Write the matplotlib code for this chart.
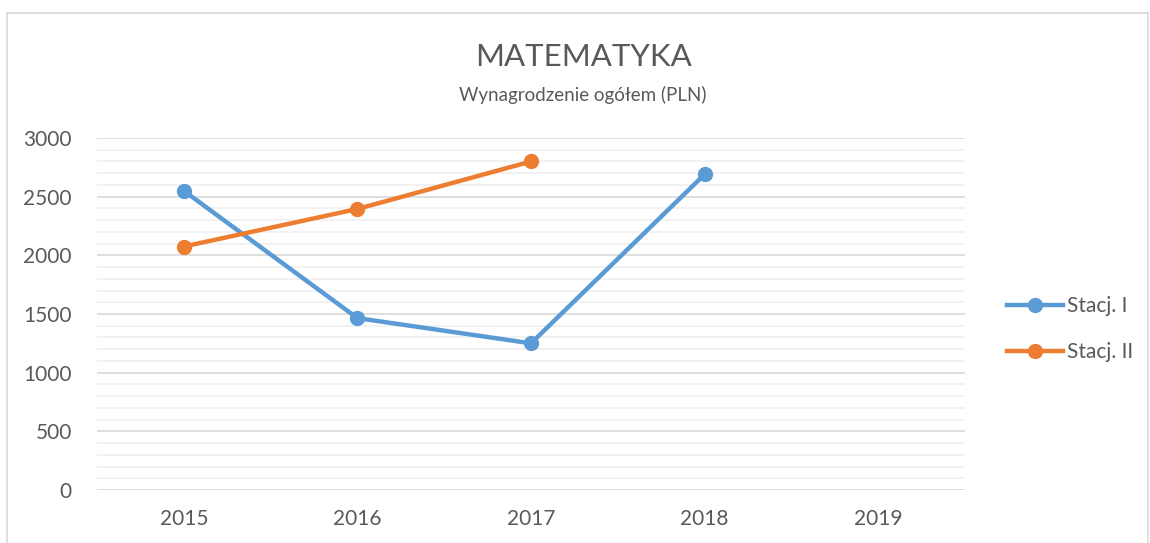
import numpy as np
import matplotlib
matplotlib.use("Agg")
import matplotlib.pyplot as plt
from matplotlib.lines import Line2D

plt.rcParams['font.family'] = ['Lato', 'DejaVu Sans']

years = ['2015', '2016', '2017', '2018', '2019']
stacj_1 = [2550, 1465, 1250, 2690, np.nan]
stacj_2 = [2075, 2395, 2800, np.nan, np.nan]
series_names = ['Stacj. I', 'Stacj. II']
title = 'MATEMATYKA'
subtitle = 'Wynagrodzenie ogółem (PLN)'

blue = '#5B9BD5'
orange = '#ED7D31'
txt = '#595959'

fig = plt.figure(figsize=(11.5, 5.43), dpi=100)
# chart border
fig.add_artist(Line2D([7/1150, 7/1150], [0, 1-13/543], color='#d9d9d9', lw=1.2))
fig.add_artist(Line2D([7/1150, 1148/1150], [1-13/543, 1-13/543], color='#d9d9d9', lw=1.2))
fig.add_artist(Line2D([1148/1150, 1148/1150], [0, 1-13/543], color='#d9d9d9', lw=1.2))

ax = fig.add_axes([97/1150, 1-490/543, (965-97)/1150, (490-138)/543])
x = np.arange(len(years))
ax.plot(x, stacj_1, color=blue, lw=3.2, marker='o', ms=10, label=series_names[0], zorder=3)
ax.plot(x, stacj_2, color=orange, lw=3.2, marker='o', ms=10, label=series_names[1], zorder=3)

ax.set_xlim(-0.5, len(years)-0.5)
ax.set_ylim(0, 3000)
ax.set_xticks(x)
ax.set_xticklabels(years)
ax.set_yticks(np.arange(0, 3001, 500))
ax.set_yticks(np.arange(0, 3001, 100), minor=True)
ax.grid(True, which='major', axis='y', color='#d9d9d9', lw=1.2)
ax.grid(True, which='minor', axis='y', color='#f0f0f0', lw=1.2)
ax.set_axisbelow(True)
for s in ax.spines.values():
    s.set_visible(False)
ax.tick_params(axis='both', which='both', length=0, labelsize=15, labelcolor=txt)
ax.tick_params(axis='y', pad=18)
ax.tick_params(axis='x', pad=14)
for lbl in ax.get_yticklabels():
    lbl.set_horizontalalignment('right')

fig.text(583/1150, 1-57/543, title, ha='center', va='center', fontsize=22.5, color=txt)
fig.text(583/1150, 1-95/543, subtitle, ha='center', va='center', fontsize=13.5, color=txt)

leg = fig.legend(loc='center left', bbox_to_anchor=(988/1150, 1-329/543), frameon=False,
                 fontsize=15, handlelength=2.7, handletextpad=0.2, labelspacing=1.25,
                 labelcolor=txt)

fig.savefig('out.png', dpi=100)
